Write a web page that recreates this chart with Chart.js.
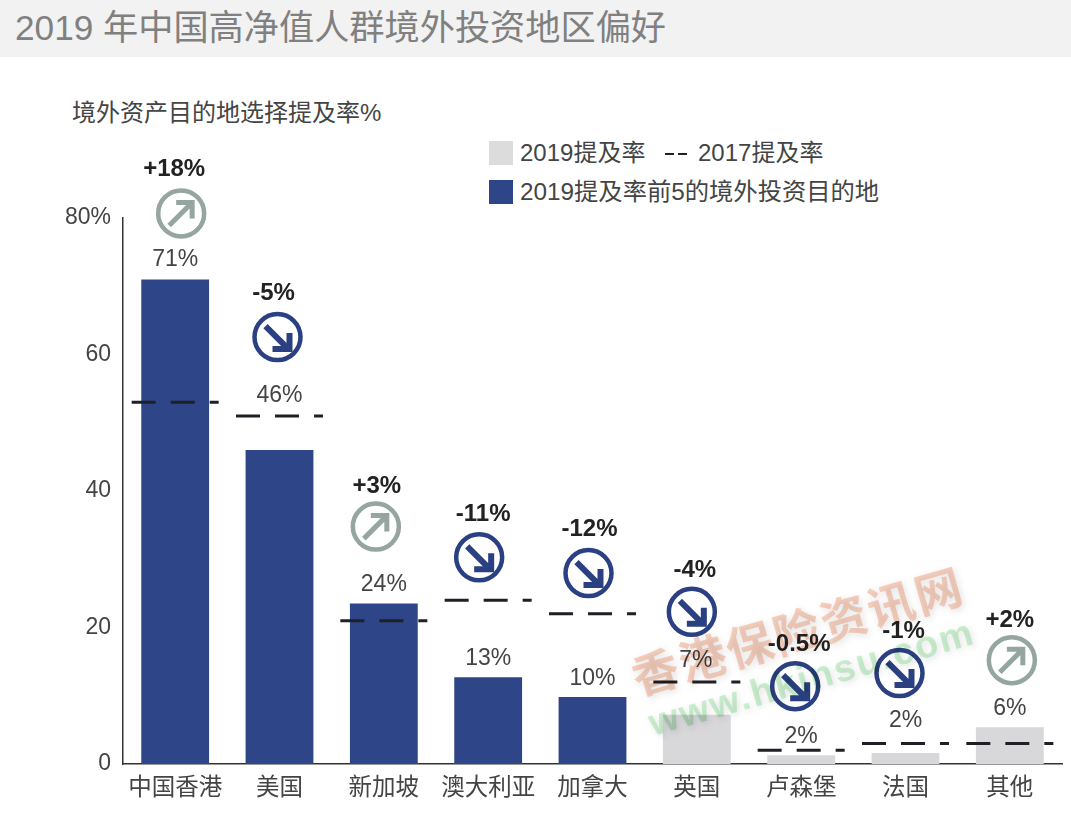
<!DOCTYPE html>
<html>
<head>
<meta charset="utf-8">
<title>2019 年中国高净值人群境外投资地区偏好</title>
<script src="https://cdn.jsdelivr.net/npm/chart.js@4"></script>
<style>
  html, body { margin: 0; padding: 0; background: #fff; }
  body { width: 1071px; height: 814px; position: relative; overflow: hidden;
         font-family: "Liberation Sans", "Noto Sans CJK SC", sans-serif; color: #444; }
  canvas { position: absolute; left: 0; top: 0; }
  .band { position: absolute; left: 0; top: 0; width: 1071px; height: 57px; background: #f2f2f2; }
  .title { position: absolute; left: 15px; top: 7px; font-size: 35.2px; line-height: 42px; color: #808080; white-space: nowrap; }
  .subtitle { position: absolute; left: 72px; top: 98px; font-size: 24px; line-height: 30px; white-space: nowrap; }
  .legend-text { position: absolute; font-size: 24px; line-height: 30px; white-space: nowrap; }
  .swatch { position: absolute; width: 24px; height: 24px; }
  .dash { position: absolute; height: 2px; width: 9px; background: #222; }
</style>
</head>
<body>
<div class="band"></div>
<div class="title">2019 年中国高净值人群境外投资地区偏好</div>
<div class="subtitle">境外资产目的地选择提及率%</div>

<div class="swatch" style="left:489px;top:141px;background:#dcdcdc"></div>
<div class="legend-text" style="left:520px;top:138px">2019提及率</div>
<div class="dash" style="left:665px;top:153px"></div>
<div class="dash" style="left:678px;top:153px"></div>
<div class="legend-text" style="left:698px;top:138px">2017提及率</div>
<div class="swatch" style="left:489px;top:180px;background:#2e4587"></div>
<div class="legend-text" style="left:520px;top:177px;font-size:24.3px">2019提及率前5的境外投资目的地</div>

<canvas id="chart" width="1071" height="814"></canvas>

<script>
// ===== Data =====
const categories = ["中国香港", "美国", "新加坡", "澳大利亚", "加拿大", "英国", "卢森堡", "法国", "其他"];
const rate2019 = [71, 46, 23.5, 12.7, 9.8, 7.2, 1.3, 1.6, 5.4];
const rate2017 = [53, 51, 21, 24, 22, 12, 2, 3, 3];
const rateLabels = ["71%", "46%", "24%", "13%", "10%", "7%", "2%", "2%", "6%"];
const changeLabels = ["+18%", "-5%", "+3%", "-11%", "-12%", "-4%", "-0.5%", "-1%", "+2%"];
const yTicks = [0, 20, 40, 60, 80];

// ===== Styles and layout =====
const BLUE = "#2e4587";
const GREY = "#d8d8db";
const ARROW_UP = "#95a5a0";
const ARROW_DOWN = "#2a4082";
const TEXT = "#444";
const FONT = '"Liberation Sans", "Noto Sans CJK SC", sans-serif';
const topCount = 5;

// callout offsets in px from the top of each bar
const labelDy = [-20, -54, -19, -19, -18, -54, -18, -32, -18];
const labelDx = [0, 0, 0, 0, 0, -1, 0, 0, 0];
const circleDy = [-66, -113, -77, -120, -124, -103, -69, -80, -67];
const circleDx = [6, -2, -8, -9, -4, -5, -6, -6, 2];
const changeDy = [-110, -157, -117, -163, -168, -144, -111, -122, -107];
const changeDx = [-1, -6, -7, -5, -3, -2, -2, -2, 0];

// ===== Plugins =====

// 2017 values: three-part dash centred on each category
const dashPlugin = {
  id: "dashes",
  afterDatasetsDraw(chart) {
    const { ctx } = chart;
    const y = chart.scales.y;
    const x = chart.scales.x;
    ctx.save();
    ctx.strokeStyle = "#1f1f26";
    ctx.lineWidth = 3;
    ctx.setLineDash([24, 15, 24, 15, 9, 100]);
    rate2017.forEach((v, i) => {
      const cx = x.getPixelForValue(i);
      const py = y.getPixelForValue(v);
      ctx.beginPath();
      ctx.moveTo(cx - 43.5, py);
      ctx.lineTo(cx + 43.5, py);
      ctx.stroke();
    });
    ctx.restore();
  }
};

function drawArrow(ctx, cx, cy, up, color) {
  ctx.save();
  ctx.translate(cx, cy);
  ctx.strokeStyle = color;
  ctx.lineWidth = 4.5;
  ctx.beginPath();
  ctx.arc(0, 0, 23, 0, Math.PI * 2);
  ctx.stroke();
  ctx.lineJoin = "miter";
  ctx.lineWidth = up ? 5 : 6;
  ctx.beginPath();
  if (up) {
    ctx.moveTo(-12, 12);
    ctx.lineTo(9, -9);
    ctx.moveTo(-5, -11);
    ctx.lineTo(11, -11);
    ctx.lineTo(11, 5);
  } else {
    ctx.moveTo(-12, -11);
    ctx.lineTo(9, 10);
    ctx.moveTo(-5, 12);
    ctx.lineTo(12, 12);
    ctx.lineTo(12, -4);
  }
  ctx.stroke();
  ctx.restore();
}

// value labels, change labels and arrow circles
const calloutPlugin = {
  id: "callouts",
  afterDatasetsDraw(chart) {
    const { ctx } = chart;
    const x = chart.scales.x;
    const y = chart.scales.y;
    ctx.save();
    ctx.textAlign = "center";
    ctx.textBaseline = "middle";
    categories.forEach((c, i) => {
      const cx = x.getPixelForValue(i);
      const top = y.getPixelForValue(rate2019[i]);
      const up = changeLabels[i].startsWith("+");

      ctx.font = "23px " + FONT;
      ctx.fillStyle = TEXT;
      ctx.fillText(rateLabels[i], cx + labelDx[i], top + labelDy[i]);

      ctx.font = "bold 24px " + FONT;
      ctx.fillStyle = "#222";
      ctx.fillText(changeLabels[i], cx + changeDx[i], top + changeDy[i]);

      drawArrow(ctx, cx + circleDx[i], top + circleDy[i], up, up ? ARROW_UP : ARROW_DOWN);
    });
    ctx.restore();
  }
};

// site watermark across the lower right, multiplied so the dark text still shows
const watermarkPlugin = {
  id: "watermark",
  afterDraw(chart) {
    const { ctx } = chart;
    ctx.save();
    ctx.textAlign = "left";
    ctx.textBaseline = "middle";
    ctx.globalCompositeOperation = "multiply";

    ctx.save();
    ctx.translate(634, 683);
    ctx.rotate(-16 * Math.PI / 180);
    ctx.font = "bold 47px " + FONT;
    ctx.shadowColor = "rgba(190,190,190,0.5)";
    ctx.shadowBlur = 7;
    ctx.shadowOffsetX = 2;
    ctx.shadowOffsetY = 2;
    ctx.fillStyle = "rgba(251,205,185,0.9)";
    ctx.letterSpacing = "2px";
    ctx.fillText("香港保险资讯网", 0, 0);
    ctx.restore();

    ctx.save();
    ctx.translate(650, 726);
    ctx.rotate(-16 * Math.PI / 180);
    ctx.font = "bold 38px " + FONT;
    ctx.shadowColor = "rgba(190,190,190,0.45)";
    ctx.shadowBlur = 6;
    ctx.shadowOffsetX = 2;
    ctx.shadowOffsetY = 2;
    ctx.fillStyle = "rgba(200,242,205,0.9)";
    ctx.letterSpacing = "2px";
    ctx.fillText("www.hkinsu.com", 0, 0);
    ctx.restore();

    ctx.restore();
  }
};

// ===== Chart =====
new Chart(document.getElementById("chart").getContext("2d"), {
  type: "bar",
  data: {
    labels: categories,
    datasets: [
      {
        label: "2019提及率",
        data: rate2019,
        backgroundColor: rate2019.map((v, i) => (i < topCount ? BLUE : GREY)),
        categoryPercentage: 0.65,
        barPercentage: 1
      },
      {
        type: "line",
        label: "2017提及率",
        data: rate2017,
        showLine: false,
        pointRadius: 0
      }
    ]
  },
  plugins: [dashPlugin, calloutPlugin, watermarkPlugin],
  options: {
    responsive: false,
    animation: false,
    devicePixelRatio: 1,
    layout: { padding: { top: 218, right: 9, bottom: 0, left: 0 } },
    plugins: {
      legend: { display: false },
      tooltip: { enabled: false },
      title: { display: false }
    },
    scales: {
      x: {
        afterFit(scale) { scale.height = 50; },
        grid: { display: false, drawTicks: false },
        border: { display: true, color: "#333", width: 1.5 },
        ticks: {
          padding: 10,
          maxRotation: 0,
          autoSkip: false,
          color: TEXT,
          font: { size: 23.5, family: FONT }
        }
      },
      y: {
        min: 0,
        max: 80,
        afterFit(scale) { scale.width = 123; },
        afterBuildTicks(scale) { scale.ticks = yTicks.map(v => ({ value: v })); },
        grid: { display: false, drawTicks: false },
        border: { display: true, color: "#333", width: 1.5 },
        ticks: {
          padding: 12,
          color: TEXT,
          font: { size: 23, family: FONT },
          callback: v => (v === 80 ? "80%" : String(v))
        }
      }
    }
  }
});
</script>
</body>
</html>
